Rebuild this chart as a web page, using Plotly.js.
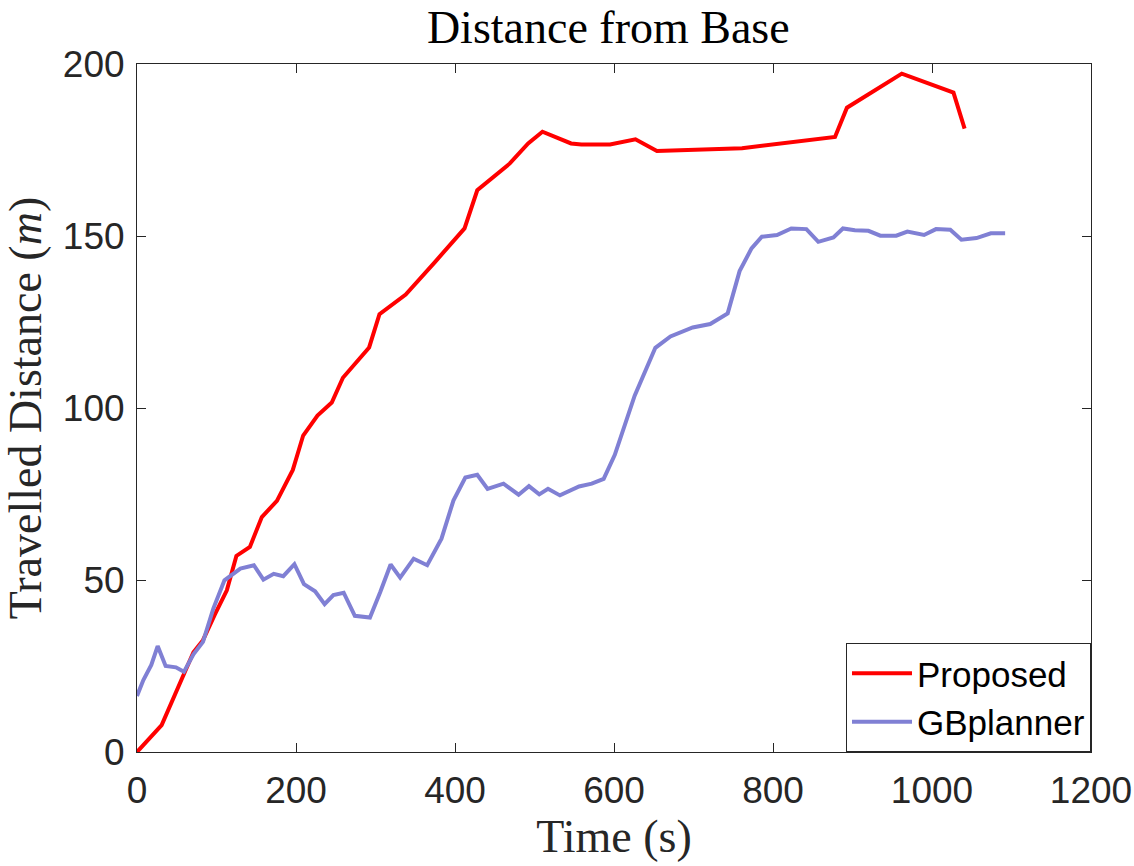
<!DOCTYPE html>
<html>
<head>
<meta charset="utf-8">
<script src="https://cdn.plot.ly/plotly-3.0.1.min.js"></script>
<style>html,body{margin:0;padding:0;background:#fff;}#chart{width:1134px;height:866px;}</style>
</head>
<body>
<div id="chart"></div>
<script>
const proposedTime = [0,31,71,83,98,113,125,142,157,176,196,209,227,245,259,292,305,338,375,412,428,469,492,510,546,559,595,627,654,761,878,893,962,1027,1041];
const proposedDist = [0,7.8,29,32.5,40,47,57,59.6,68.3,73,82,92,97.8,101.6,108.8,117.6,127.3,133,142.5,152.2,163.3,171.1,176.9,180.3,176.9,176.6,176.6,178.1,174.7,175.5,178.8,187.3,197.2,191.7,181.2];

const gbTime = [0,8,18,26,36,49,59,71,83,96,110,130,147,159,172,184,198,210,224,236,247,260,274,293,306,319,331,348,365,383,398,413,428,441,461,480,493,506,517,532,556,572,587,601,626,652,671,699,721,743,758,773,786,805,823,842,857,876,888,903,920,935,955,969,990,1005,1023,1037,1056,1074,1092];
const gbDist = [16.3,20.9,25.3,30.8,25,24.6,23.3,28.4,32,41.7,49.9,53.3,54.3,50.1,51.8,51.1,54.6,48.8,46.7,43,45.6,46.3,39.6,39.1,46.5,54.5,50.7,56.2,54.3,62,73.1,79.8,80.6,76.5,78,74.8,77.3,74.9,76.5,74.6,77.2,78,79.4,86.4,103.6,117.5,120.8,123.4,124.4,127.5,139.8,146.4,149.8,150.3,152.2,152,148.3,149.6,152.2,151.7,151.5,150.1,150.1,151.3,150.3,152,151.8,148.9,149.4,150.8,150.8];

const seriesNames = ['Proposed', 'GBplanner'];
const xTicks = [0,200,400,600,800,1000,1200];
const yTicks = [0,50,100,150,200];

const axisColor = '#262626';
const serif = '"Liberation Serif", "Times New Roman", serif';
const sans = '"Liberation Sans", Arial, Helvetica, sans-serif';

const traces = [
  {x: proposedTime, y: proposedDist, name: seriesNames[0], type: 'scatter', mode: 'lines',
   line: {color: '#ff0000', width: 4}},
  {x: gbTime, y: gbDist, name: seriesNames[1], type: 'scatter', mode: 'lines',
   line: {color: 'rgb(128,128,212)', width: 4}}
];

const layout = {
  width: 1134, height: 866,
  paper_bgcolor: '#fff', plot_bgcolor: '#fff',
  margin: {l: 137, r: 43, t: 64, b: 114, pad: 0},
  showlegend: true,
  title: {text: 'Distance from Base', font: {family: serif, size: 46, color: '#000'},
          x: 0.494, xref: 'paper', xanchor: 'center', y: 1 - 27/866, yref: 'container', yanchor: 'middle'},
  xaxis: {
    range: [0, 1200], tickvals: xTicks, ticktext: xTicks.map(String),
    showgrid: false, zeroline: false,
    showline: true, linecolor: axisColor, linewidth: 1, mirror: 'ticks',
    ticks: 'inside', ticklen: 9, tickwidth: 1, tickcolor: axisColor,
    tickfont: {family: sans, size: 37, color: axisColor},
    ticklabelstandoff: 6,
    title: {text: 'Time (s)', font: {family: serif, size: 46, color: '#262626'}, standoff: 6},
    automargin: false
  },
  yaxis: {
    range: [0, 200], tickvals: yTicks, ticktext: yTicks.map(String),
    showgrid: false, zeroline: false,
    showline: true, linecolor: axisColor, linewidth: 1, mirror: 'ticks',
    ticks: 'inside', ticklen: 9, tickwidth: 1, tickcolor: axisColor,
    tickfont: {family: sans, size: 37, color: axisColor},
    ticklabelstandoff: 4,
    title: {text: 'Travelled Distance (<i>m</i>)\u00a0\u00a0', font: {family: serif, size: 46, color: '#262626'}, standoff: 14},
    automargin: false
  },
  legend: {
    x: 1, xanchor: 'right', y: 0, yanchor: 'bottom',
    bgcolor: '#fff', bordercolor: axisColor, borderwidth: 1,
    font: {family: sans, size: 35, color: '#000'},
    itemwidth: 60, tracegroupgap: 0
  }
};

Plotly.newPlot('chart', traces, layout, {displayModeBar: false, staticPlot: true});
</script>
</body>
</html>
